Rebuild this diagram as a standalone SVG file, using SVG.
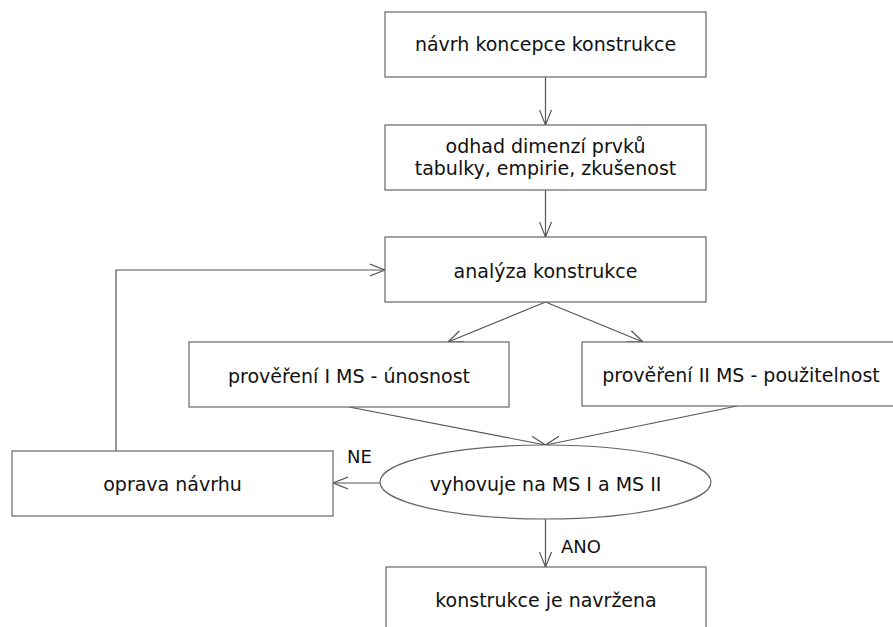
<svg xmlns="http://www.w3.org/2000/svg" width="893" height="627" viewBox="0 0 893 627">
<style>
.box{fill:#fff;stroke:#666;stroke-width:1.2}
.t{font-family:"DejaVu Sans",Verdana,sans-serif;font-size:19px;fill:#111;text-anchor:middle}
.l{font-family:"DejaVu Sans",Verdana,sans-serif;font-size:18px;fill:#111}
.c{fill:none;stroke:#555;stroke-width:1.2}
</style>
<defs>
<marker id="a" markerUnits="userSpaceOnUse" markerWidth="18" markerHeight="14" refX="15" refY="6" orient="auto" viewBox="0 0 18 12">
<path d="M0,0 L15,6 L0,12" fill="none" stroke="#555" stroke-width="1.2"/>
</marker>
</defs>
<rect width="893" height="627" fill="#fff"/>
<g id="connectors">
<line class="c" x1="545.5" y1="77" x2="545.5" y2="125" marker-end="url(#a)"/>
<line class="c" x1="545.5" y1="190" x2="545.5" y2="237" marker-end="url(#a)"/>
<line class="c" x1="545.5" y1="302" x2="448" y2="342" marker-end="url(#a)"/>
<line class="c" x1="545.5" y1="302" x2="643" y2="342" marker-end="url(#a)"/>
<line class="c" x1="349" y1="407" x2="545.5" y2="445" marker-end="url(#a)"/>
<line class="c" x1="737" y1="406" x2="545.5" y2="445" marker-end="url(#a)"/>
<line class="c" x1="380" y1="483" x2="333" y2="483" marker-end="url(#a)"/>
<line class="c" x1="545.5" y1="519" x2="545.5" y2="567" marker-end="url(#a)"/>
<polyline class="c" points="116,451 116,270 385,270" marker-end="url(#a)"/>
<text class="l" x="347" y="463">NE</text>
<text class="l" x="561" y="553">ANO</text>
</g>
<g id="n1"><rect class="box" x="385" y="12" width="321" height="65"/><text class="t" x="545.5" y="51">návrh koncepce konstrukce</text></g>
<g id="n2"><rect class="box" x="385" y="125" width="321" height="65"/><text class="t" x="545.5" y="153">odhad dimenzí prvků</text><text class="t" x="545.5" y="175">tabulky, empirie, zkušenost</text></g>
<g id="n3"><rect class="box" x="385" y="237" width="321" height="65"/><text class="t" x="545.5" y="278">analýza konstrukce</text></g>
<g id="n4"><rect class="box" x="189" y="342" width="320" height="65"/><text class="t" x="349" y="383">prověření I MS - únosnost</text></g>
<g id="n5"><rect class="box" x="582" y="342" width="320" height="64"/><text class="t" x="741" y="382">prověření II MS - použitelnost</text></g>
<g id="n6"><ellipse class="box" cx="545.5" cy="482" rx="165.5" ry="37"/><text class="t" x="545.5" y="491">vyhovuje na MS I a MS II</text></g>
<g id="n7"><rect class="box" x="12" y="451" width="321" height="65"/><text class="t" x="172.5" y="491">oprava návrhu</text></g>
<g id="n8"><rect class="box" x="386" y="567" width="320" height="70"/><text class="t" x="546" y="607">konstrukce je navržena</text></g>
</svg>
